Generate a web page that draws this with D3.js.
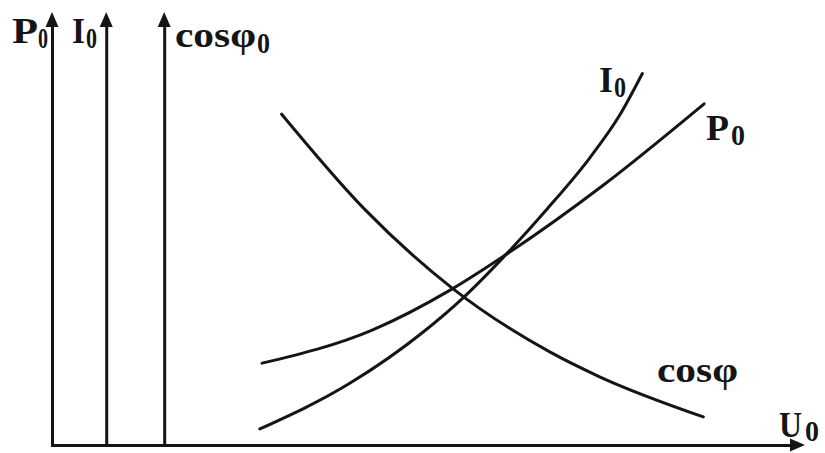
<!DOCTYPE html>
<html>
<head>
<meta charset="utf-8">
<script src="https://cdn.jsdelivr.net/npm/d3@7"></script>
<style>
  html, body { margin: 0; padding: 0; background: #fff; }
  svg { display: block; }
</style>
</head>
<body>
<svg id="chart" width="825" height="453"></svg>
<script>
// No-load characteristics of a transformer vs. primary voltage U0 (relative units)
const uCos    = [30.5, 41.6, 53.1, 66.1, 72.8, 86.5];
const cosVals = [76.4, 54.3, 36.3, 21.5, 15.7, 6.5];

const uP      = [27.9, 42.6, 53.1, 60.4, 73.2, 86.6];
const pVals   = [18.9, 26.6, 36.0, 44.1, 60.0, 78.8];

const uI      = [27.6, 39.6, 49.3, 54.6, 60.4, 65.7, 71.5, 75.4, 78.4];
const iVals   = [3.7, 14.3, 26.1, 34.0, 44.2, 54.4, 66.5, 76.2, 85.8];

// Axis names (main symbol + subscript)
const axisNames  = ["P", "I", "cosφ"];
const axisSubs   = ["0", "0", "0"];
const curveNames = ["I", "P", "cosφ"];
const curveSubs  = ["0", "0", ""];
const xName = "U", xSub = "0";

// ---- layout ----
const ink = "#151515";
const svg = d3.select("#chart");
const x = d3.scaleLinear().domain([0, 100]).range([52, 805]);
const y = d3.scaleLinear().domain([0, 100]).range([445, 12]);

const vAxisAt = [0, 7.2, 14.9];          // U positions of the three vertical axes
const arrowLen = 15, arrowHalf = 6.5;

// vertical axes
vAxisAt.forEach(u => {
  const g = svg.append("g")
    .attr("transform", `translate(${x(u)},0)`)
    .call(d3.axisLeft(y.copy().range([y(0), y(100) + arrowLen - 1]))
      .tickValues([]).tickSizeOuter(0));
  g.select(".domain").attr("stroke", ink).attr("stroke-width", 3)
    .attr("stroke-linecap", "square");
  const cx = x(u), ty = y(100);
  svg.append("path")
    .attr("d", `M${cx},${ty} L${cx - arrowHalf},${ty + arrowLen} L${cx + arrowHalf},${ty + arrowLen} Z`)
    .attr("fill", ink);
});

// horizontal axis
const gx = svg.append("g")
  .attr("transform", `translate(0,${y(0)})`)
  .call(d3.axisBottom(x.copy().range([x(0) - 1.5, x(100) - arrowLen + 1]))
    .tickValues([]).tickSizeOuter(0));
gx.select(".domain").attr("stroke", ink).attr("stroke-width", 3);
svg.append("path")
  .attr("d", `M${x(100)},${y(0)} L${x(100) - arrowLen},${y(0) - arrowHalf} L${x(100) - arrowLen},${y(0) + arrowHalf} Z`)
  .attr("fill", ink);

// curves
const line = d3.line()
  .x(d => x(d[0]))
  .y(d => y(d[1]))
  .curve(d3.curveMonotoneX);

[[uCos, cosVals], [uP, pVals], [uI, iVals]].forEach(([us, vs]) => {
  svg.append("path")
    .datum(d3.zip(us, vs))
    .attr("d", line)
    .attr("fill", "none")
    .attr("stroke", ink)
    .attr("stroke-width", 3)
    .attr("stroke-linecap", "round");
});

// text label: main symbol with its own subscript, each squeezed to a set width
function label(main, sub, lx, by, w, sx, sy, sw) {
  svg.append("text")
    .attr("x", lx).attr("y", by)
    .attr("font-family", "'Liberation Serif', 'DejaVu Serif', serif")
    .attr("font-weight", "bold")
    .attr("font-size", 36)
    .attr("fill", ink)
    .attr("textLength", w)
    .attr("lengthAdjust", "spacingAndGlyphs")
    .text(main);
  if (sub) {
    svg.append("text")
      .attr("x", sx).attr("y", sy)
      .attr("font-family", "'Liberation Serif', 'DejaVu Serif', serif")
      .attr("font-weight", "bold")
      .attr("font-size", 29)
      .attr("fill", ink)
      .attr("textLength", sw)
      .attr("lengthAdjust", "spacingAndGlyphs")
      .text(sub);
  }
}

label(axisNames[0], axisSubs[0], 12, 43, 26, 38, 48, 10);
label(axisNames[1], axisSubs[1], 72, 43, 13, 86, 48, 11);
label(axisNames[2], axisSubs[2], 175, 47, 81, 257, 53, 13);

label(curveNames[0], curveSubs[0], 599, 92, 14, 614, 97, 12);
label(curveNames[1], curveSubs[1], 706, 140, 23, 731, 145, 14);
label(curveNames[2], curveSubs[2], 657, 382, 81, 0, 0, 0);

label(xName, xSub, 779, 437, 23, 805, 441, 14);
</script>
</body>
</html>
